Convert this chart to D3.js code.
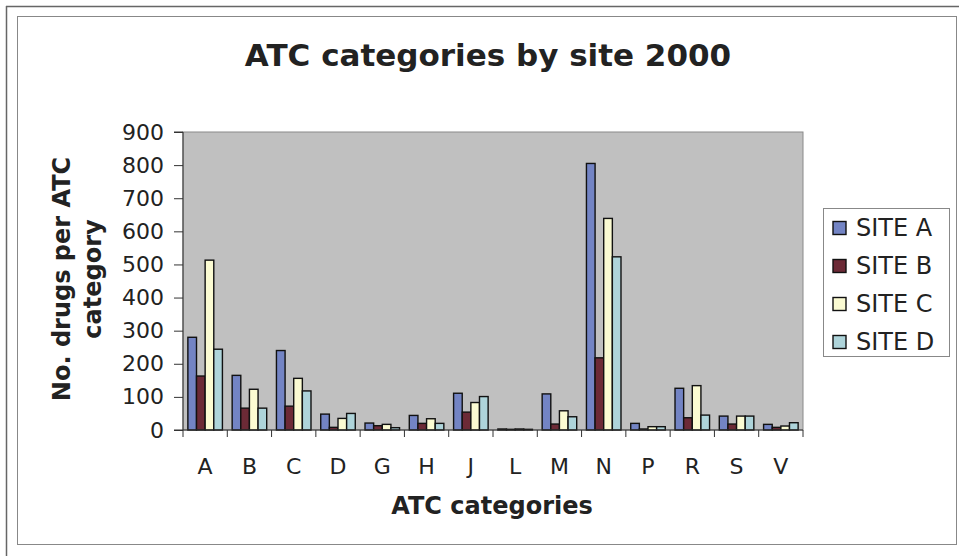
<!DOCTYPE html>
<html><head><meta charset="utf-8">
<script src="https://cdn.jsdelivr.net/npm/d3@7"></script>
<style>body{margin:0;background:#fff}svg{display:block}</style>
</head><body>
<svg id="c" width="959" height="556"></svg>
<script>
const categories = ["A","B","C","D","G","H","J","L","M","N","P","R","S","V"];
const series = ["SITE A","SITE B","SITE C","SITE D"];
const siteA = [280,165,240,48,21,44,111,3,109,805,20,126,42,17];
const siteB = [163,66,72,8,13,20,54,2,18,218,3,37,18,8];
const siteC = [513,123,156,35,17,34,83,3,58,639,10,134,42,12];
const siteD = [244,66,118,50,7,20,101,2,40,523,10,45,42,22];
const yTicks = [0,100,200,300,400,500,600,700,800,900];
const colors = ["#7384c4","#6c2a36","#fbfbd2","#aed4da"];
const values = [siteA, siteB, siteC, siteD];

const svg = d3.select("#c");
const font = "DejaVu Sans, Verdana, sans-serif";

// frames
svg.append("line").attr("x1",6).attr("x2",959).attr("y1",6.5).attr("y2",6.5).attr("stroke","#666").attr("stroke-width",1.5);
svg.append("line").attr("x1",6.5).attr("x2",6.5).attr("y1",6).attr("y2",556).attr("stroke","#666").attr("stroke-width",1.5);
svg.append("rect").attr("x",17.5).attr("y",16.5).attr("width",939).attr("height",528).attr("fill","#fff").attr("stroke","#888").attr("stroke-width",1);

const L = 183, R = 803, T = 132, B = 430;
const x0 = d3.scaleBand().domain(categories).range([L,R]).paddingInner(0.22).paddingOuter(0.11);
const x1 = d3.scaleBand().domain(series).range([0,x0.bandwidth()]);
const y = d3.scaleLinear().domain([0,900]).range([B,T]);

// plot area
svg.append("rect").attr("x",L).attr("y",T).attr("width",R-L).attr("height",B-T).attr("fill","#c0c0c0").attr("stroke","#8a8a8a").attr("stroke-width",1);

// bars
const g = svg.append("g");
categories.forEach((c,i)=>{
  series.forEach((s,j)=>{
    const v = values[j][i];
    g.append("rect")
      .attr("x", x0(c)+x1(s)).attr("y", y(v))
      .attr("width", x1.bandwidth()).attr("height", B - y(v))
      .attr("fill", colors[j]).attr("stroke","#111").attr("stroke-width",1.4);
  });
});

// y axis
const yAxis = d3.axisLeft(y).tickValues(yTicks).tickSize(9).tickPadding(10);
const ya = svg.append("g").attr("transform",`translate(${L},0)`).call(yAxis);
ya.select(".domain").attr("stroke","#333").attr("d",`M-9,${T}H0V${B}H-9`);
ya.selectAll(".tick line").attr("stroke","#333");
ya.selectAll("text").attr("font-family",font).attr("font-size",22).attr("fill","#222");

// x axis
const step = x0.step();
const boundaries = d3.range(categories.length+1).map(i=>L+i*step);
const xa = svg.append("g");
xa.append("line").attr("x1",L).attr("x2",R).attr("y1",B).attr("y2",B).attr("stroke","#333");
xa.selectAll("line.t").data(boundaries).enter().append("line").attr("class","t")
  .attr("x1",d=>d).attr("x2",d=>d).attr("y1",B).attr("y2",B+7).attr("stroke","#333");
xa.selectAll("text").data(categories).enter().append("text")
  .attr("x",d=>x0(d)+x0.bandwidth()/2).attr("y",474)
  .attr("text-anchor","middle").attr("font-family",font).attr("font-size",22).attr("fill","#222").text(d=>d);

// titles
svg.append("text").attr("x",488).attr("y",66).attr("text-anchor","middle")
  .attr("font-family",font).attr("font-weight","bold").attr("font-size",31).attr("fill","#222")
  .text("ATC categories by site 2000");
svg.append("text").attr("x",492).attr("y",514).attr("text-anchor","middle")
  .attr("font-family",font).attr("font-weight","bold").attr("font-size",24).attr("fill","#222")
  .text("ATC categories");
const yt = svg.append("text")
  .attr("font-family",font).attr("font-weight","bold").attr("font-size",24).attr("fill","#222").attr("text-anchor","middle");
yt.append("tspan").attr("x",-279).attr("y",70).text("No. drugs per ATC");
yt.append("tspan").attr("x",-279).attr("y",101).text("category");
yt.attr("transform","rotate(-90)");

// legend
const lg = svg.append("g");
lg.append("rect").attr("x",823.5).attr("y",208.5).attr("width",126).attr("height",148).attr("fill","#fff").attr("stroke","#888");
series.forEach((s,j)=>{
  const cy = 228 + j*38;
  lg.append("rect").attr("x",833).attr("y",cy-6.5).attr("width",13).attr("height",13)
    .attr("fill",colors[j]).attr("stroke","#111").attr("stroke-width",1.4);
  lg.append("text").attr("x",856).attr("y",cy+8).attr("font-family",font).attr("font-size",24).attr("fill","#222").text(s);
});
</script>
</body></html>
